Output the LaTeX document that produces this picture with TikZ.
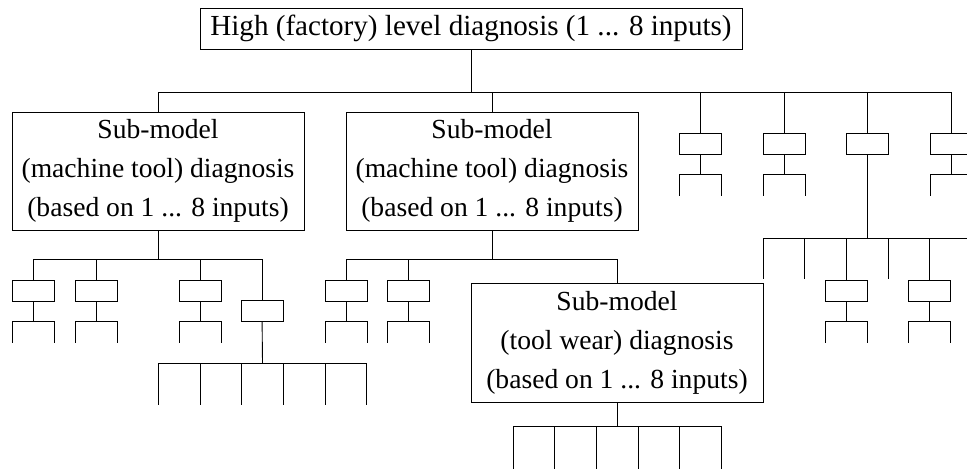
\documentclass[tikz,border=0pt]{standalone}
\usepackage{fontspec}
\setmainfont{Liberation Serif}
\usetikzlibrary{calc}

\tikzset{
  line/.style={draw=black, line width=0.9pt},
  bigbox/.style={line, rectangle, inner sep=0pt, outer sep=0pt,
    minimum width=292pt, minimum height=118pt, align=center,
    font=\fontsize{27.6}{39}\selectfont},
  headbox/.style={line, rectangle, inner sep=0pt, outer sep=0pt,
    minimum width=542pt, minimum height=41pt,
    font=\fontsize{29.1}{35}\selectfont},
  sbox/.style={line, rectangle, inner sep=0pt, outer sep=0pt,
    minimum width=42pt, minimum height=21pt},
}

% small box with a two-legged fork below it
\newcommand\leafbox[3]{%
  \node[sbox] (#1) at (#2,#3) {};
  \coordinate (#1-f) at ($(#1.south)+(0,20)$);
  \coordinate (#1-l) at ($(#1.south west)+(0,42)$);
  \coordinate (#1-r) at ($(#1.south east)+(0,42)$);
  \draw[line] (#1) -- (#1-f);
  \draw[line] (#1-f) -| (#1-l);
  \draw[line] (#1-f) -| (#1-r);
}

\begin{document}
\begin{tikzpicture}[x=1pt, y=-1pt]
\useasboundingbox (0,0) rectangle (967,469);
\clip (0,0) rectangle (967,469);
\fill[white] (0,0) rectangle (967,469);

% top level
\node[headbox] (top) at (471,28.5) {High (factory) level diagnosis (1 ... 8 inputs)};
\coordinate (busTop) at (471,92);
\draw[line] (top) -- (busTop);

% machine tool sub-models
\node[bigbox] (smA) at (158,171) {Sub-model\\(machine tool) diagnosis\\(based on 1 ... 8 inputs)};
\node[bigbox] (smB) at (492,171) {Sub-model\\(machine tool) diagnosis\\(based on 1 ... 8 inputs)};

% right-hand branches of the top level
\leafbox{r1}{700}{143.5}
\leafbox{r2}{784}{143.5}
\node[sbox] (r3) at (867,143.5) {};
\leafbox{r4}{951}{143.5}

\foreach \n in {smA,smB,r1,r2,r3,r4}
  \draw[line] (busTop) -| (\n.north);

% fan under r3
\coordinate (busR3) at (867,238);
\draw[line] (r3) -- (busR3);
\leafbox{r3b}{846.4}{290.5}
\leafbox{r3d}{929.8}{290.5}
\coordinate (r3l1) at (763,279);
\coordinate (r3l2) at (804.7,279);
\coordinate (r3l4) at (888,279);
\coordinate (r3l6) at (971.5,279);
\foreach \n in {r3l1,r3l2,r3l4,r3l6}
  \draw[line] (busR3) -| (\n);
\foreach \n in {r3b,r3d}
  \draw[line] (busR3) -| (\n.north);

% children of the first sub-model
\coordinate (busA) at (158,259);
\draw[line] (smA) -- (busA);
\leafbox{a1}{33}{290.5}
\leafbox{a2}{96}{290.5}
\leafbox{a3}{200}{290.5}
\node[sbox] (a4) at (262,311) {};
\foreach \n in {a1,a2,a3,a4}
  \draw[line] (busA) -| (\n.north);

% fan under a4
\coordinate (busA4) at (262.5,363);
\draw[line] (a4) -- (busA4);
\foreach [count=\i] \x in {158.3,200,241.7,283.3,325,366.7}
  \coordinate (a4l\i) at (\x,405);
\foreach \i in {1,...,6}
  \draw[line] (busA4) -| (a4l\i);

% children of the second sub-model
\node[bigbox, minimum height=119pt] (smC) at (617,342.5) {Sub-model\\(tool wear) diagnosis\\(based on 1 ... 8 inputs)};
\coordinate (busB) at (492,259);
\draw[line] (smB) -- (busB);
\leafbox{b1}{346}{290.5}
\leafbox{b2}{408}{290.5}
\foreach \n in {b1,b2,smC}
  \draw[line] (busB) -| (\n.north);

% fan under the tool wear sub-model
\coordinate (busC) at (617,426);
\draw[line] (smC) -- (busC);
\foreach [count=\i] \x in {513,554.8,596.4,638,679.6,721.3}
  \coordinate (cl\i) at (\x,469);
\foreach \i in {1,...,6}
  \draw[line] (busC) -| (cl\i);
\end{tikzpicture}
\end{document}
